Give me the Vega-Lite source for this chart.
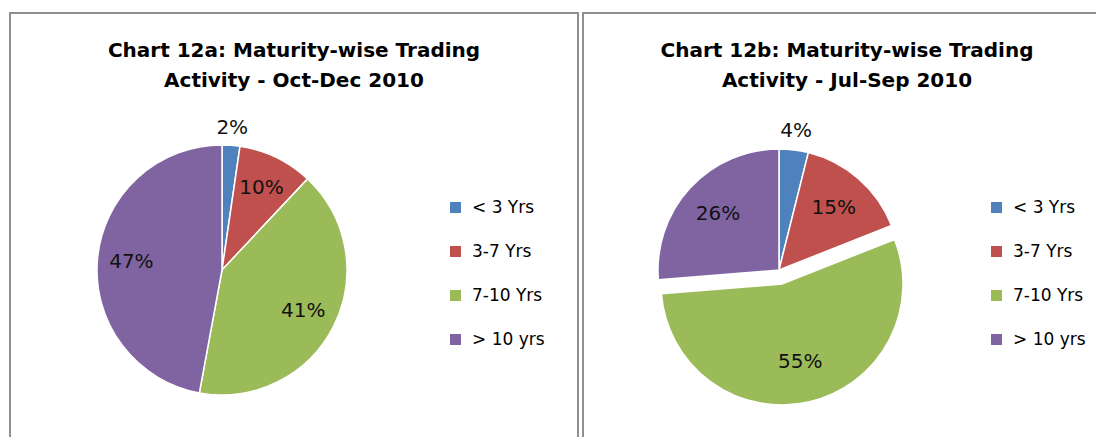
{
  "$schema": "https://vega.github.io/schema/vega-lite/v6.json",
  "padding": {"left": 9, "top": 12, "right": 0, "bottom": 0},
  "spacing": 3,
  "background": "white",
  "config": {
    "view": {"stroke": "#8f8f8f", "strokeWidth": 2},
    "font": "DejaVu Sans",
    "title": {"font": "DejaVu Sans", "fontSize": 20, "fontWeight": "bold", "color": "#000000", "lineHeight": 30, "anchor": "middle", "offset": -78},
    "legend": {"orient": "none", "title": null, "symbolType": "square", "symbolSize": 121, "symbolStrokeWidth": 0, "symbolOpacity": 1, "labelFont": "DejaVu Sans", "labelFontSize": 17, "labelColor": "#000000", "labelOffset": 8, "rowPadding": 26, "legendY": 186}
  },
  "datasets": {
    "oct_dec": [
      {"band": "< 3 Yrs", "order": 1, "value": 0.023},
      {"band": "3-7 Yrs", "order": 2, "value": 0.097},
      {"band": "7-10 Yrs", "order": 3, "value": 0.409},
      {"band": "> 10 yrs", "order": 4, "value": 0.471}
    ],
    "jul_sep": [
      {"band": "< 3 Yrs", "order": 1, "value": 0.039},
      {"band": "3-7 Yrs", "order": 2, "value": 0.151},
      {"band": "7-10 Yrs", "order": 3, "value": 0.547},
      {"band": "> 10 yrs", "order": 4, "value": 0.263}
    ]
  },
  "resolve": {"scale": {"color": "independent"}, "legend": {"color": "independent"}},
  "hconcat": [
    {
      "width": 568,
      "height": 425,
      "view": {"stroke": "#8f8f8f", "strokeWidth": 2},
      "title": {"text": ["Chart 12a: Maturity-wise Trading", "Activity - Oct-Dec 2010"]},
      "data": {"name": "oct_dec"},
      "encoding": {
        "theta": {"field": "value", "type": "quantitative", "stack": true},
        "order": {"field": "order", "type": "quantitative"}
      },
      "layer": [
        {
          "mark": {"type": "arc", "radius": 125, "x": 212, "y": 257, "stroke": "white", "strokeWidth": 1.5},
          "encoding": {
            "color": {"field": "band", "type": "nominal",
              "scale": {"domain": ["< 3 Yrs", "3-7 Yrs", "7-10 Yrs", "> 10 yrs"], "range": ["#4F81BD", "#C0504D", "#9BBB59", "#8064A2"]},
              "legend": {"legendX": 437}}
          }
        },
        {
          "mark": {"type": "text", "radius": 91, "x": 212, "y": 257, "fontSize": 20, "color": "#111111"},
          "encoding": {
            "text": {"condition": {"test": "datum.value < 0.05", "value": ""}, "field": "value", "type": "quantitative", "format": ".0%"}
          }
        },
        {
          "mark": {"type": "text", "radius": 142, "x": 212, "y": 257, "fontSize": 20, "color": "#111111"},
          "encoding": {
            "text": {"condition": {"test": "datum.value >= 0.05", "value": ""}, "field": "value", "type": "quantitative", "format": ".0%"}
          }
        }
      ]
    },
    {
      "width": 516,
      "height": 425,
      "view": {"stroke": "#8f8f8f", "strokeWidth": 2},
      "title": {"text": ["Chart 12b: Maturity-wise Trading", "Activity - Jul-Sep 2010"], "dx": 6},
      "data": {"name": "jul_sep"},
      "encoding": {
        "theta": {"field": "value", "type": "quantitative", "stack": true},
        "order": {"field": "order", "type": "quantitative"}
      },
      "layer": [
        {
          "mark": {"type": "arc", "radius": 121, "x": 196, "y": 257, "stroke": "white", "strokeWidth": 1.5},
          "encoding": {
            "color": {"field": "band", "type": "nominal",
              "scale": {"domain": ["< 3 Yrs", "3-7 Yrs", "7-10 Yrs", "> 10 yrs"], "range": ["#4F81BD", "#C0504D", "#9BBB59", "#8064A2"]},
              "legend": {"legendX": 405}},
            "opacity": {"condition": {"test": "datum.band === '7-10 Yrs'", "value": 0}, "value": 1}
          }
        },
        {
          "mark": {"type": "arc", "radius": 121, "x": 199, "y": 271, "stroke": "white", "strokeWidth": 1.5},
          "encoding": {
            "color": {"field": "band", "type": "nominal"},
            "opacity": {"condition": {"test": "datum.band === '7-10 Yrs'", "value": 1}, "value": 0}
          }
        },
        {
          "mark": {"type": "text", "radius": 83, "x": 196, "y": 257, "fontSize": 20, "color": "#111111"},
          "encoding": {
            "text": {"condition": {"test": "datum.value < 0.05 || datum.band === '7-10 Yrs'", "value": ""}, "field": "value", "type": "quantitative", "format": ".0%"}
          }
        },
        {
          "mark": {"type": "text", "radius": 80, "x": 199, "y": 271, "fontSize": 20, "color": "#111111"},
          "encoding": {
            "text": {"condition": {"test": "datum.band !== '7-10 Yrs'", "value": ""}, "field": "value", "type": "quantitative", "format": ".0%"}
          }
        },
        {
          "mark": {"type": "text", "radius": 140, "x": 196, "y": 257, "fontSize": 20, "color": "#111111"},
          "encoding": {
            "text": {"condition": {"test": "datum.value >= 0.05", "value": ""}, "field": "value", "type": "quantitative", "format": ".0%"}
          }
        }
      ]
    }
  ]
}
